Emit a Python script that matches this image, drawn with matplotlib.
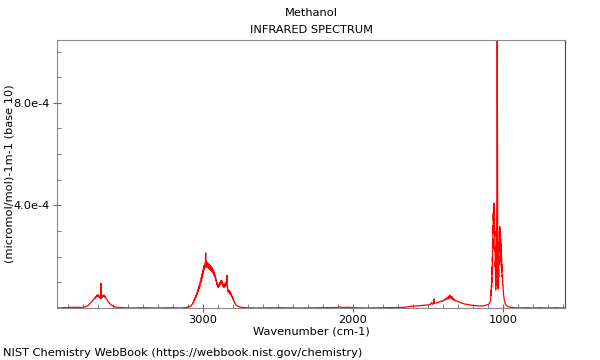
import numpy as np
import matplotlib
matplotlib.use("Agg")
from matplotlib import pyplot as plt
from matplotlib.ticker import MultipleLocator, FixedLocator

# absorbance values in units of 1e-4 (micromol/mol)-1 m-1
base_hi_wn = [3973, 3950, 3920, 3900, 3880, 3860, 3840, 3820, 3800]
base_hi_abs = [0.01, 0.0, 0.02, 0.01, 0.03, 0.02, 0.03, 0.02, 0.03]

oh_wn = [3790, 3780, 3772, 3765, 3758, 3752, 3746, 3740, 3735, 3730, 3725,
         3720, 3716, 3712, 3708, 3704, 3700, 3696, 3692, 3688, 3684, 3681,
         3680, 3679, 3675, 3671, 3667, 3663, 3659, 3655, 3651, 3646, 3641,
         3636, 3630, 3622, 3614, 3605, 3595, 3587, 3560, 3520]
oh_abs = [0.04, 0.05, 0.08, 0.10, 0.14, 0.18, 0.22, 0.26, 0.30, 0.33, 0.38,
          0.36, 0.44, 0.42, 0.50, 0.45, 0.52, 0.44, 0.48, 0.40, 0.44, 0.36,
          0.96, 0.38, 0.46, 0.42, 0.50, 0.44, 0.50, 0.42, 0.44, 0.36, 0.34,
          0.28, 0.24, 0.18, 0.13, 0.09, 0.06, 0.04, 0.02, 0.01]

base_oh_ch_wn = [3480, 3400, 3300, 3200, 3150]
base_oh_ch_abs = [0.0, 0.01, 0.0, 0.01, 0.0]

ch_wn = [3110, 3104, 3098, 3092, 3086, 3080, 3075, 3071, 3067, 3063, 3060,
         3057, 3054, 3051, 3048, 3045, 3042, 3039, 3036, 3033, 3030, 3027,
         3024, 3021, 3018, 3015, 3012, 3009, 3006, 3003, 3000, 2997, 2994,
         2991, 2988, 2985, 2982, 2980, 2977, 2974, 2971, 2968, 2965, 2962,
         2959, 2956, 2953, 2950, 2947, 2944, 2941, 2938, 2935, 2932, 2929,
         2926, 2923, 2920, 2917, 2914, 2911, 2908, 2905, 2902, 2899, 2896,
         2893, 2890, 2887, 2884, 2881, 2878, 2875, 2872, 2869, 2866, 2863,
         2860, 2857, 2854, 2851, 2848, 2845, 2842, 2840, 2838, 2835, 2832,
         2829, 2826, 2823, 2820, 2817, 2814, 2811, 2808, 2805, 2802, 2799,
         2796, 2793, 2789, 2785, 2780, 2775, 2768, 2760, 2750, 2735, 2715]
ch_abs = [0.02, 0.03, 0.05, 0.04, 0.08, 0.07, 0.13, 0.14, 0.22, 0.20, 0.32,
          0.30, 0.40, 0.36, 0.48, 0.44, 0.58, 0.52, 0.70, 0.62, 0.82, 0.74,
          0.92, 0.84, 1.04, 0.96, 1.18, 1.06, 1.32, 1.20, 1.48, 1.36, 1.65,
          1.50, 1.72, 1.58, 2.15, 1.62, 1.82, 1.60, 1.78, 1.58, 1.74, 1.55,
          1.70, 1.50, 1.66, 1.48, 1.62, 1.45, 1.58, 1.40, 1.52, 1.36, 1.45,
          1.28, 1.38, 1.20, 1.26, 1.06, 1.10, 0.92, 0.98, 0.82, 0.88, 0.80,
          0.92, 0.86, 1.00, 0.92, 1.06, 0.96, 1.08, 0.94, 0.98, 0.84, 0.90,
          0.80, 0.92, 0.84, 0.98, 0.86, 0.96, 1.10, 1.28, 0.88, 0.74, 0.62,
          0.70, 0.60, 0.68, 0.56, 0.62, 0.50, 0.55, 0.44, 0.46, 0.36, 0.38,
          0.28, 0.28, 0.20, 0.17, 0.12, 0.10, 0.07, 0.05, 0.03, 0.02, 0.01]

base_mid_wn = [2650, 2500, 2350, 2200, 2100, 2087, 2070, 2040, 2000, 1900,
               1800, 1700, 1650]
base_mid_abs = [0.0, 0.01, 0.0, 0.01, 0.02, 0.04, 0.02, 0.03, 0.01, 0.0,
                0.01, 0.02, 0.03]

ch3_wn = [1620, 1580, 1540, 1500, 1485, 1475, 1470, 1462, 1460, 1457, 1445,
          1430, 1420, 1410, 1402, 1395, 1388, 1382, 1376, 1371, 1366, 1362,
          1358, 1355, 1352, 1348, 1344, 1340, 1336, 1332, 1328, 1323, 1318,
          1310, 1300, 1287, 1270, 1250, 1230, 1200, 1175, 1150, 1130, 1109,
          1095]
ch3_abs = [0.06, 0.08, 0.10, 0.12, 0.14, 0.22, 0.14, 0.18, 0.35, 0.18, 0.20,
           0.22, 0.25, 0.28, 0.26, 0.32, 0.30, 0.38, 0.33, 0.42, 0.36, 0.46,
           0.38, 0.50, 0.40, 0.46, 0.36, 0.44, 0.34, 0.38, 0.30, 0.34, 0.28,
           0.27, 0.25, 0.22, 0.18, 0.15, 0.13, 0.10, 0.09, 0.08, 0.08, 0.12,
           0.15]

co_wn = [1090, 1085, 1082, 1080, 1079, 1077, 1076, 1075, 1074, 1073, 1072,
         1071, 1070, 1069, 1068, 1067, 1066, 1065, 1064, 1063, 1062, 1061,
         1060, 1059, 1058, 1057, 1056, 1055, 1054, 1053, 1052, 1051, 1050,
         1049, 1048, 1047, 1046, 1045, 1044, 1043, 1042, 1041, 1040, 1039,
         1038, 1037, 1036, 1035, 1034, 1033, 1032, 1031, 1030, 1029, 1028,
         1027, 1026, 1025, 1024, 1023, 1022, 1021, 1020, 1019, 1018, 1017,
         1016, 1015, 1014, 1013, 1012, 1011, 1010, 1009, 1008, 1006, 1004,
         1002, 1000, 998, 995, 992, 988, 984, 978, 970, 960, 950, 935, 920]
co_abs = [0.20, 0.26, 0.35, 0.70, 0.50, 0.90, 0.80, 1.20, 1.00, 1.60, 1.30,
          2.00, 1.80, 2.70, 2.30, 3.20, 2.90, 3.70, 3.40, 4.00, 3.70, 4.09,
          3.60, 3.90, 3.30, 3.50, 2.80, 3.00, 2.20, 2.40, 1.60, 1.80, 1.10,
          0.70, 1.00, 0.90, 1.40, 1.20, 2.00, 2.60, 3.50, 4.50, 7.00, 10.8,
          8.00, 4.00, 2.20, 1.40, 1.00, 0.75, 1.10, 0.90, 1.50, 1.20, 2.00,
          1.70, 2.60, 2.20, 3.00, 2.60, 3.18, 2.70, 3.10, 2.50, 2.90, 2.30,
          2.70, 2.00, 2.50, 1.80, 2.30, 1.60, 2.00, 1.40, 1.70, 1.20, 1.30,
          0.90, 0.90, 0.60, 0.45, 0.32, 0.22, 0.15, 0.10, 0.06, 0.04, 0.03,
          0.02, 0.01]

base_lo_wn = [900, 850, 800, 750, 700, 650, 600, 587]
base_lo_abs = [0.0, 0.01, 0.0, 0.01, 0.0, 0.01, 0.0, 0.0]

wn = np.concatenate([base_hi_wn, oh_wn, base_oh_ch_wn, ch_wn, base_mid_wn,
                     ch3_wn, co_wn, base_lo_wn])
absorb = np.concatenate([base_hi_abs, oh_abs, base_oh_ch_abs, ch_abs,
                         base_mid_abs, ch3_abs, co_abs, base_lo_abs]) * 1e-4

plt.rcParams['font.family'] = 'DejaVu Sans'
fs = 8.2

fig = plt.figure(figsize=(6, 3.6), dpi=100)
ax = fig.add_axes([57 / 600, 1 - 308 / 360, 508 / 600, 268 / 360])
ax.plot(wn, absorb, color='red', lw=0.9)

ax.set_xlim(3973, 587)
ax.set_ylim(0, 1.045e-3)

ax.xaxis.set_major_locator(FixedLocator([3000, 2000, 1000]))
ax.xaxis.set_minor_locator(MultipleLocator(100))
ax.yaxis.set_major_locator(FixedLocator([4e-4, 8e-4]))
ax.yaxis.set_minor_locator(MultipleLocator(1e-4))
ax.set_xticklabels(['3000', '2000', '1000'])
ax.set_yticklabels(['4.0e-4', '8.0e-4'])
ax.tick_params(which='major', direction='inout', length=6, color='#666666',
               labelsize=fs, pad=2)
ax.tick_params(which='minor', direction='in', length=3, color='#666666')

for side in ['left', 'top', 'bottom']:
    ax.spines[side].set_color('#888888')
ax.spines['right'].set_color('#444444')

ax.set_xlabel('Wavenumber (cm-1)', fontsize=fs, labelpad=1)
fig.text(10 / 600, 1 - 174 / 360, '(micromol/mol)-1m-1 (base 10)', rotation=90,
         ha='center', va='center', fontsize=fs)

fig.text(311 / 600, 1 - 13 / 360, 'Methanol', ha='center', va='center', fontsize=fs)
fig.text(311 / 600, 1 - 30 / 360, 'INFRARED SPECTRUM', ha='center', va='center', fontsize=fs)
fig.text(3 / 600, 1 - 353 / 360, 'NIST Chemistry WebBook (https://webbook.nist.gov/chemistry)',
         ha='left', va='center', fontsize=fs)

fig.savefig('out.png', dpi=100)
